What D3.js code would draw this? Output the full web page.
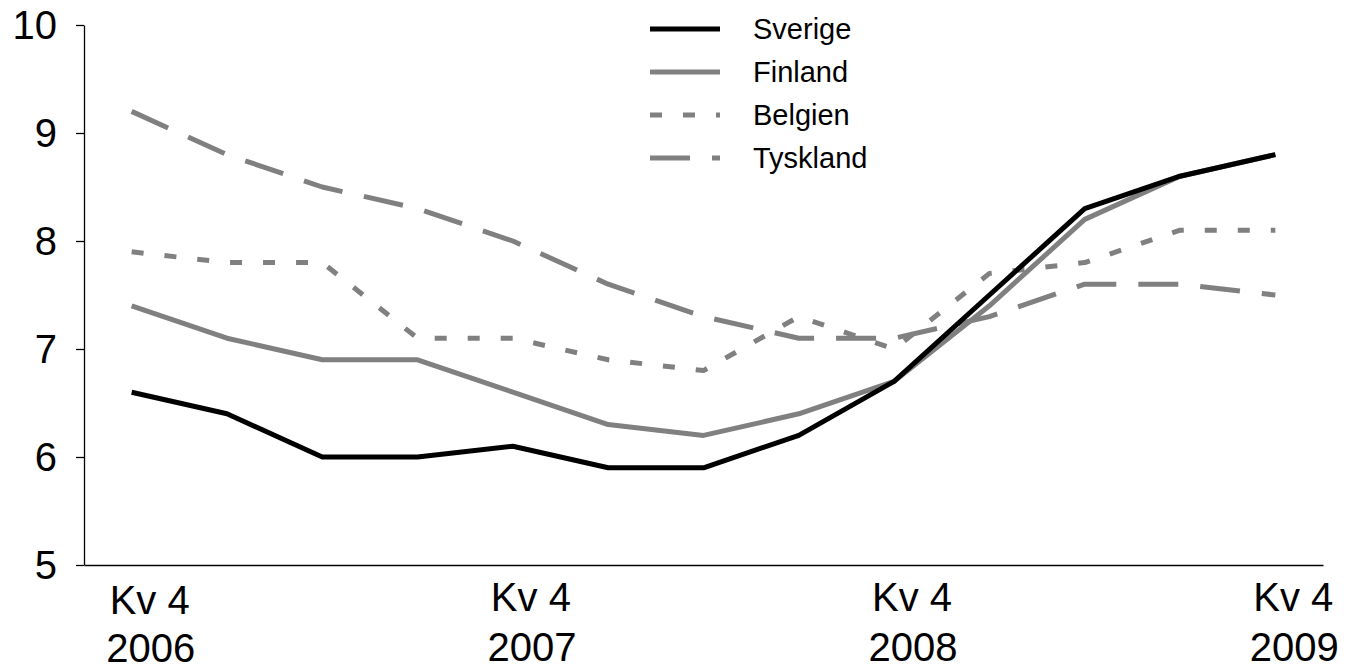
<!DOCTYPE html>
<html lang="sv">
<head>
  <meta charset="UTF-8">
  <title>Sverige, Finland, Belgien, Tyskland</title>
  <script src="https://d3js.org/d3.v7.min.js"></script>
  <style>
    body { margin: 0; background: white; }
    svg { display: block; font-family: "Liberation Sans", Arial, sans-serif; }
    .tickText { font-size: 40px; fill: black; }
    .legendText { font-size: 29px; fill: black; }
    .axis path, .axis line { stroke: black; stroke-width: 1.3; }
  </style>
</head>
<body>
<div id="chart"></div>
<script>
  // quarters Kv 4 2006 .. Kv 4 2009
  const quarters = ["Kv 4 2006", "Kv 1 2007", "Kv 2 2007", "Kv 3 2007", "Kv 4 2007",
                    "Kv 1 2008", "Kv 2 2008", "Kv 3 2008", "Kv 4 2008",
                    "Kv 1 2009", "Kv 2 2009", "Kv 3 2009", "Kv 4 2009"];
  const sverige  = [6.6, 6.4, 6.0, 6.0, 6.1, 5.9, 5.9, 6.2, 6.7, 7.5, 8.3, 8.6, 8.8];
  const finland  = [7.4, 7.1, 6.9, 6.9, 6.6, 6.3, 6.2, 6.4, 6.7, 7.4, 8.2, 8.6, 8.8];
  const belgien  = [7.9, 7.8, 7.8, 7.1, 7.1, 6.9, 6.8, 7.3, 7.0, 7.7, 7.8, 8.1, 8.1];
  const tyskland = [9.2, 8.8, 8.5, 8.3, 8.0, 7.6, 7.3, 7.1, 7.1, 7.3, 7.6, 7.6, 7.5];
  const seriesNames = ["Sverige", "Finland", "Belgien", "Tyskland"];
  const yTicks = [5, 6, 7, 8, 9, 10];
  const labelQuarters = ["Kv 4 2006", "Kv 4 2007", "Kv 4 2008", "Kv 4 2009"];

  const width = 1350, height = 670;
  const plotLeft = 84, plotRight = 1323, plotTop = 25, plotBottom = 565;

  const svg = d3.select("#chart").append("svg")
    .attr("width", width)
    .attr("height", height);

  const x = d3.scalePoint()
    .domain(quarters)
    .range([plotLeft, plotRight])
    .padding(0.5);

  const y = d3.scaleLinear()
    .domain([5, 10])
    .range([plotBottom, plotTop]);

  // y axis
  svg.append("g")
    .attr("class", "axis")
    .attr("transform", `translate(${plotLeft},0)`)
    .call(d3.axisLeft(y).tickValues(yTicks).tickSize(8).tickSizeOuter(0).tickFormat(""));

  svg.selectAll(".yLabel")
    .data(yTicks)
    .enter()
    .append("text")
    .attr("class", "tickText")
    .attr("x", plotLeft - 27)
    .attr("y", d => y(d))
    .attr("dy", "0.36em")
    .attr("text-anchor", "end")
    .text(d => d);

  // x axis (line only)
  svg.append("g")
    .attr("class", "axis")
    .attr("transform", `translate(0,${plotBottom})`)
    .call(d3.axisBottom(x).tickValues([]).tickSizeOuter(0));

  // category labels, two lines each
  labelQuarters.forEach((q, i) => {
    const parts = q.split(" ");
    const t = svg.append("text")
      .attr("class", "tickText")
      .attr("text-anchor", "middle")
      .attr("x", x(q) + 18)
      .attr("y", i === 0 ? 614 : 611);
    t.append("tspan")
      .attr("x", x(q) + 18)
      .text(parts[0] + " " + parts[1]);
    t.append("tspan")
      .attr("x", x(q) + 19)
      .attr("dy", i === 0 ? 48 : 50)
      .text(parts[2]);
  });

  // lines
  const styles = {
    Sverige:  { color: "#000000", dash: null,    width: 5 },
    Finland:  { color: "#808080", dash: null,    width: 5 },
    Belgien:  { color: "#808080", dash: "12,21", width: 5 },
    Tyskland: { color: "#808080", dash: "40,22", width: 5 }
  };
  const values = { Sverige: sverige, Finland: finland, Belgien: belgien, Tyskland: tyskland };

  const line = d3.line()
    .x((d, i) => x(quarters[i]))
    .y(d => y(d));

  ["Tyskland", "Belgien", "Finland", "Sverige"].forEach(name => {
    const s = styles[name];
    svg.append("path")
      .datum(values[name])
      .attr("fill", "none")
      .attr("stroke", s.color)
      .attr("stroke-width", s.width)
      .attr("stroke-linejoin", "round")
      .attr("stroke-dasharray", s.dash)
      .attr("d", line);
  });

  // legend
  const legend = svg.append("g");
  seriesNames.forEach((name, i) => {
    const s = styles[name];
    const ly = 29 + i * 43;
    legend.append("line")
      .attr("x1", 650).attr("x2", 720)
      .attr("y1", ly).attr("y2", ly)
      .attr("stroke", s.color)
      .attr("stroke-width", s.width)
      .attr("stroke-dasharray", s.dash);
    legend.append("text")
      .attr("class", "legendText")
      .attr("x", 753)
      .attr("y", ly)
      .attr("dy", "0.36em")
      .text(name);
  });
</script>
</body>
</html>
